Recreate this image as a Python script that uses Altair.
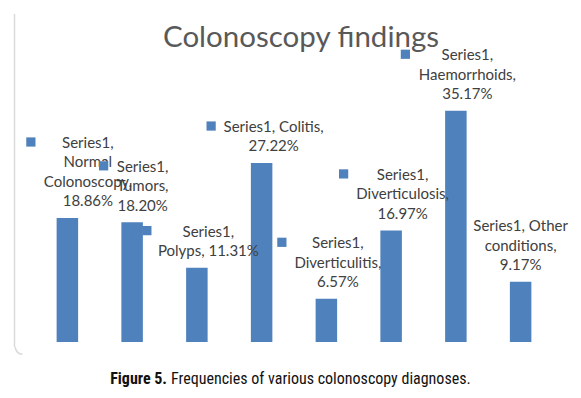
import math
import altair as alt
import pandas as pd

# ---------------- data ----------------
categories = ["Normal Colonoscopy", "Tumors", "Polyps", "Colitis",
              "Diverticulitis", "Diverticulosis", "Haemorrhoids", "Other conditions"]
values = [18.86, 18.20, 11.31, 27.22, 6.57, 16.97, 35.17, 9.17]
label_texts = [
    "Series1,\nNormal\nColonoscopy,\n18.86%",
    "Series1,\nTumors,\n18.20%",
    "Series1,\nPolyps, 11.31%",
    "Series1, Colitis,\n27.22%",
    "Series1,\nDiverticulitis,\n6.57%",
    "Series1,\nDiverticulosis,\n16.97%",
    "Series1,\nHaemorrhoids,\n35.17%",
    "Series1, Other\nconditions,\n9.17%",
]
title_text = "Colonoscopy findings"
caption_bold = "Figure 5."
caption_rest = "Frequencies of various colonoscopy diagnoses."

# ---------------- layout ----------------
W, H = 518, 263
YMAX = 40
PX = H / YMAX
LINE_H = 19.5
PAD_INNER = 0.668
STEP = W / (len(categories) - PAD_INNER + PAD_INNER)
HALF_BAND = STEP * (1 - PAD_INNER) / 2
label_dx = [20.5, 10.5, 11.5, 12, 11.5, 11.5, 11.5, 0]
key_dx = [-36.5, -28.5, -50, -50.5, -44.5, -47.5, -50.5, None]

BLUE = "#4F81BD"
LABEL_FONT = "Lato"
CAP_FONT = "Liberation Sans Narrow, Roboto Condensed, DejaVu Sans Condensed, Arial Narrow, sans-serif"

nlines = [t.count("\n") + 1 for t in label_texts]
df = pd.DataFrame({
    "category": categories,
    "value": values,
    "label": label_texts,
    "label_off": [d + HALF_BAND for d in label_dx],
    "key_off": [None if d is None else d + HALF_BAND for d in key_dx],
})
df["label_y"] = [v + (11.6 + (n - 1) * LINE_H) / PX for v, n in zip(values, nlines)]
df["key_y"] = [v + (17 + (n - 1) * LINE_H + 0.5) / PX for v, n in zip(values, nlines)]

x = alt.X("category:N", sort=categories, axis=None,
          scale=alt.Scale(paddingInner=PAD_INNER, paddingOuter=PAD_INNER / 2))
yscale = alt.Scale(domain=[0, YMAX], nice=False)

base = alt.Chart(df)
bars = base.mark_bar(color=BLUE).encode(
    x=x, y=alt.Y("value:Q", axis=None, scale=yscale))

labels = base.mark_text(font=LABEL_FONT, fontSize=15, color="#404040",
                        lineBreak="\n", lineHeight=LINE_H, baseline="alphabetic",
                        align="center").encode(
    x=x, y=alt.Y("label_y:Q", axis=None, scale=yscale),
    xOffset=alt.XOffset("label_off:Q", scale=None),
    text="label:N")

keys = base.transform_filter("isValid(datum.key_off)").mark_square(
    size=85, color=BLUE, opacity=1).encode(
    x=x, y=alt.Y("key_y:Q", axis=None, scale=yscale),
    xOffset=alt.XOffset("key_off:Q", scale=None))

one = alt.Chart(pd.DataFrame({"t": [title_text]}))
title = one.mark_text(font=LABEL_FONT, fontSize=29.5, color="#595959",
                      baseline="alphabetic", align="center").encode(
    x=alt.value(266), y=alt.value(-32), text="t:N")

cap1 = alt.Chart(pd.DataFrame({"t": [caption_bold]})).mark_text(
    font=CAP_FONT, fontSize=16, fontWeight="bold", color="#111111",
    baseline="middle", align="right").encode(
    x=alt.value(132), y=alt.value(300), text="t:N")
cap2 = alt.Chart(pd.DataFrame({"t": [caption_rest]})).mark_text(
    font=CAP_FONT, fontSize=16, color="#111111",
    baseline="middle", align="left").encode(
    x=alt.value(136), y=alt.value(300), text="t:N")

border = one.mark_rule(color="#d9d9d9", strokeWidth=1.5).encode(
    x=alt.value(-20.5), y=alt.value(-65), y2=alt.value(268))
corner = one.mark_arc(theta=math.pi, theta2=1.5 * math.pi, radius=8,
                      radius2=6.5, color="#d9d9d9").encode(
    x=alt.value(-12.5), y=alt.value(268))

chart = alt.layer(border, corner, bars, labels, keys, title, cap1, cap2).properties(
    width=W, height=H,
    autosize=alt.AutoSizeParams(type="none"),
    padding={"left": 27, "top": 71, "right": 16, "bottom": 48},
    background="white",
).configure_view(strokeWidth=0)

chart.save("out.html", embed_options={"renderer": "svg", "actions": False})
